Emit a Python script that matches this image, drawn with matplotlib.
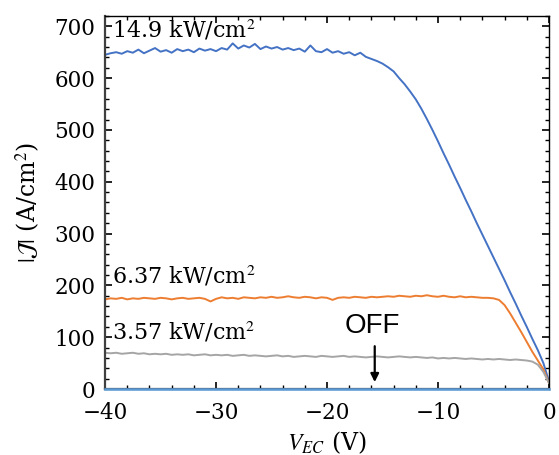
import numpy as np
import matplotlib
matplotlib.use("Agg")
import matplotlib.pyplot as plt
from matplotlib.ticker import MultipleLocator

plt.rcParams['font.family'] = ['DejaVu Serif']
plt.rcParams['mathtext.fontset'] = 'stix'

# Voltage grid (V), shared by all curves
v_ec = np.arange(-40, 0.01, 0.5)

# |J| (A/cm^2), rows of 10 points (5 V each)
j_high = [645, 648, 650, 647, 652, 649, 655, 648, 653, 658,
          651, 654, 649, 656, 652, 655, 650, 657, 653, 656,
          652, 658, 655, 667, 657, 663, 659, 666, 656, 661,
          657, 660, 655, 658, 654, 657, 651, 663, 652, 650,
          656, 649, 652, 647, 650, 644, 649, 641, 637, 633,
          628, 621, 613, 600, 588, 574, 559, 541, 521, 500,
          478, 455, 433, 410, 388, 365, 343, 320, 298, 276,
          254, 232, 210, 187, 165, 142, 120, 97, 75, 50,
          15]
j_mid = [173, 175, 174, 176, 173, 175, 174, 176, 175, 174,
         176, 175, 173, 175, 176, 174, 175, 176, 174, 169,
         174, 177, 175, 176, 174, 177, 176, 175, 177, 176,
         178, 176, 177, 179, 177, 176, 178, 177, 175, 177,
         176, 172, 176, 177, 176, 178, 177, 176, 178, 177,
         178, 179, 178, 180, 179, 178, 180, 179, 181, 179,
         178, 180, 178, 177, 179, 177, 178, 177, 176, 176,
         175, 172, 162, 146, 128, 110, 91, 72, 55, 38,
         12]
j_low = [70, 69, 70, 68, 69, 70, 68, 69, 67, 68,
         67, 68, 66, 67, 66, 67, 65, 66, 67, 65,
         66, 65, 66, 64, 65, 66, 64, 65, 64, 63,
         64, 65, 63, 64, 62, 63, 64, 63, 62, 64,
         63, 62, 63, 64, 62, 63, 62, 61, 62, 63,
         62, 61, 62, 63, 62, 61, 62, 61, 60, 61,
         59, 60, 59, 60, 59, 58, 59, 58, 57, 58,
         57, 58, 57, 56, 57, 56, 55, 53, 47, 33,
         12]
off_v = [-40, 0]
off_j = [0, 0]

labels = ["14.9 kW/cm$^2$", "6.37 kW/cm$^2$", "3.57 kW/cm$^2$"]
label_y = [679, 204, 95]

fig = plt.figure(figsize=(5.59, 4.55), dpi=100)
ax = fig.add_axes([0.188, 0.145, 0.794, 0.820])

ax.plot(v_ec, j_high, color='#4472C4', lw=1.4)
ax.plot(v_ec, j_mid, color='#ED7D31', lw=1.4)
ax.plot(v_ec, j_low, color='#A5A5A5', lw=1.4)
ax.plot(off_v, off_j, color='#5B9BD5', lw=1.8, clip_on=False, zorder=5)

for txt, yy in zip(labels, label_y):
    ax.text(-39.4, yy, txt, fontsize=16, ha='left', va='baseline')

ax.text(-15.9, 122, "OFF", fontsize=20, family='Liberation Sans',
        ha='center', va='center')
ax.annotate("", xy=(-15.7, 8), xytext=(-15.7, 88),
            arrowprops=dict(arrowstyle='-|>', color='black', lw=1.6,
                            mutation_scale=12))

ax.set_xlim(-40, 0)
ax.set_ylim(0, 720)
ax.xaxis.set_major_locator(MultipleLocator(10))
ax.xaxis.set_minor_locator(MultipleLocator(2))
ax.yaxis.set_major_locator(MultipleLocator(100))
ax.yaxis.set_minor_locator(MultipleLocator(20))
ax.set_yticks(np.arange(0, 701, 100))
ax.tick_params(which='both', direction='in', top=True, right=True,
               labelsize=15.5)
ax.tick_params(axis='x', pad=9)
ax.tick_params(axis='y', pad=7)
ax.tick_params(which='major', length=5, width=1.2)
ax.tick_params(which='minor', length=3, width=1)

for side in ['left', 'bottom']:
    ax.spines[side].set_linewidth(1.6)
    ax.spines[side].set_color('#404040')
for side in ['top', 'right']:
    ax.spines[side].set_linewidth(1.0)

ax.set_xlabel(r"$V_{EC}$ (V)", fontsize=17, labelpad=4)
ax.set_ylabel(r"$|\mathcal{J}|$ (A/cm$^2$)", fontsize=17, labelpad=8)

fig.savefig("out.png", dpi=100)
